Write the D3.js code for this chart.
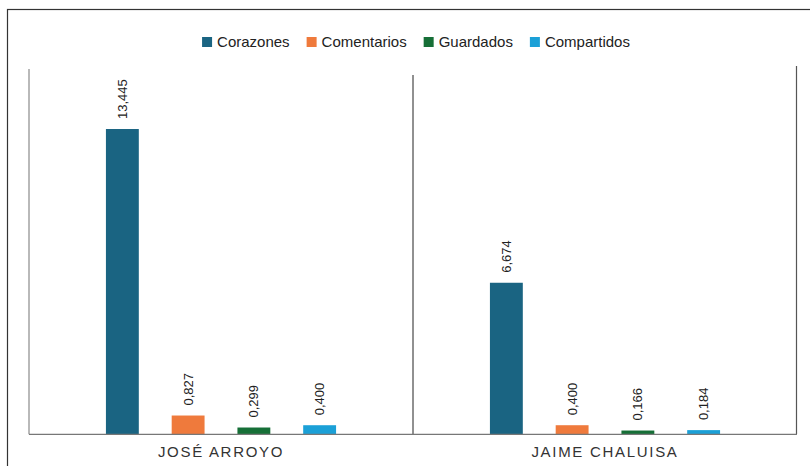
<!DOCTYPE html>
<html><head><meta charset="utf-8">
<script src="https://cdn.jsdelivr.net/npm/d3@7"></script>
<style>
html,body{margin:0;padding:0;background:#fff;}
svg{display:block;font-family:"Liberation Sans",Arial,sans-serif;}
</style></head>
<body><svg id="chart" width="810" height="466"></svg>
<script>
const groups = ["JOSÉ ARROYO", "JAIME CHALUISA"];
const series = ["Corazones", "Comentarios", "Guardados", "Compartidos"];
const colors = ["#1a6482", "#ef7a3c", "#166f37", "#1ba0d7"];
const corazones = [13.445, 6.674];
const comentarios = [0.827, 0.400];
const guardados = [0.299, 0.166];
const compartidos = [0.400, 0.184];
const yDomain = [0, 16];

(function () {
const seriesValues = [corazones, comentarios, guardados, compartidos];
const svg = d3.select("#chart");

// outer frame (cut off at right/bottom)
svg.append("rect").attr("x", 7.5).attr("y", 9.5).attr("width", 830).attr("height", 480)
  .attr("fill", "none").attr("stroke", "#333").attr("stroke-width", 1.2);

const pLeft = 29, pRight = 797, base = 434.3, pTop = 71;
const x0 = d3.scaleBand().domain(groups).range([pLeft, pRight]).padding(0);
const x1 = d3.scaleBand().domain(series).range([0, x0.bandwidth()]).paddingInner(0.5).paddingOuter(1.17);
const y = d3.scaleLinear().domain(yDomain).range([base, pTop]);
const fmt = v => d3.format(".3f")(v).replace(".", ",");

// axes lines
svg.append("line").attr("x1", pLeft).attr("x2", pLeft).attr("y1", 69).attr("y2", base)
  .attr("stroke", "#8a8a8a").attr("stroke-width", 1.2);
svg.append("line").attr("x1", pRight - 0.5).attr("x2", pRight - 0.5).attr("y1", 66).attr("y2", base)
  .attr("stroke", "#555").attr("stroke-width", 1.2);
svg.append("line").attr("x1", x0(groups[1])).attr("x2", x0(groups[1])).attr("y1", 75).attr("y2", base)
  .attr("stroke", "#222").attr("stroke-width", 1);

const g = svg.append("g");
groups.forEach((grp, gi) => {
  series.forEach((s, si) => {
    const v = seriesValues[si][gi];
    const bx = x0(grp) + x1(s);
    g.append("rect").attr("x", bx).attr("y", y(v)).attr("width", x1.bandwidth())
      .attr("height", base - y(v)).attr("fill", colors[si]);
    const cx = bx + x1.bandwidth() / 2;
    const ty = y(v) - 10;
    g.append("text").attr("transform", `translate(${cx},${ty}) rotate(-90)`)
      .attr("dominant-baseline", "central").attr("text-anchor", "start")
      .attr("font-size", 13).attr("fill", "#222").text(fmt(v));
  });
  svg.append("text").attr("x", x0(grp) + x0.bandwidth() / 2).attr("y", 457)
    .attr("text-anchor", "middle").attr("font-size", 15).attr("letter-spacing", 1.7)
    .attr("fill", "#333").text(grp);
});

// baseline
svg.append("line").attr("x1", pLeft).attr("x2", pRight).attr("y1", base).attr("y2", base)
  .attr("stroke", "#777").attr("stroke-width", 1.3);

// legend
const leg = svg.append("g");
let lx = 0;
series.forEach((s, i) => {
  const it = leg.append("g").attr("transform", `translate(${lx},0)`);
  it.append("rect").attr("x", 0).attr("y", 37).attr("width", 10).attr("height", 10).attr("fill", colors[i]);
  const t = it.append("text").attr("x", 15).attr("y", 46.5).attr("font-size", 15).attr("fill", "#222").text(s);
  lx += 15 + t.node().getComputedTextLength() + 17;
});
const legW = lx - 17;
leg.attr("transform", `translate(${416 - legW / 2},0)`);
})();
</script></body></html>
